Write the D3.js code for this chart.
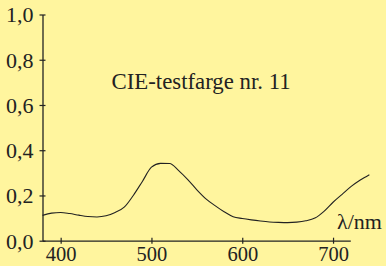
<!DOCTYPE html>
<html><head><meta charset="utf-8">
<script src="https://cdn.jsdelivr.net/npm/d3@7"></script>
<style>
html,body{margin:0;padding:0;background:#fff59e;}
svg{display:block;}
</style></head>
<body>
<svg id="c" width="386" height="266"></svg>
<script>
const wavelengths = [380,390,400,410,420,430,440,450,460,470,480,490,500,510,520,530,540,550,560,570,580,590,600,610,620,630,640,650,660,670,680,690,700,710,720,730,740];
const reflectance = [0.112,0.122,0.125,0.120,0.113,0.107,0.105,0.110,0.125,0.148,0.200,0.262,0.325,0.342,0.341,0.310,0.270,0.225,0.185,0.155,0.128,0.106,0.098,0.092,0.087,0.083,0.081,0.080,0.082,0.088,0.100,0.130,0.170,0.205,0.240,0.268,0.292];
const xTicks = [400,500,600,700];
const yTicks = [0,0.2,0.4,0.6,0.8,1.0];
const yTickLabels = ["0,0","0,2","0,4","0,6","0,8","1,0"];
const title = "CIE-testfarge nr. 11";
const xLabel = "λ/nm";

const svg = d3.select("#c");
const font = "'Liberation Serif','Times New Roman',serif";
const ink = "#222";
const x = d3.scaleLinear().domain([380,719]).range([42.5,350.3]);
const y = d3.scaleLinear().domain([0,1]).range([240.7,14.5]);

const gx = svg.append("g").attr("transform",`translate(0,${y(0)})`)
  .call(d3.axisBottom(x).tickValues(xTicks).tickSize(3).tickSizeOuter(0).tickFormat(d3.format("d")));
gx.selectAll(".tick line").attr("y1",-3).attr("stroke",ink).attr("stroke-width",1.2);
gx.select(".domain").attr("stroke",ink).attr("stroke-width",1.3);
gx.selectAll(".tick text").attr("y",20.5).attr("dy",0).attr("fill",ink)
  .style("font-family",font).style("font-size","20.5px");

const gy = svg.append("g").attr("transform",`translate(${x(380)},0)`)
  .call(d3.axisLeft(y).tickValues(yTicks).tickSize(3).tickPadding(6).tickSizeOuter(0)
    .tickFormat((d,i)=>yTickLabels[i]));
gy.selectAll(".tick line").attr("x1",3).attr("stroke",ink).attr("stroke-width",1.2);
gy.select(".domain").attr("stroke",ink).attr("stroke-width",1.3);
gy.selectAll(".tick text").attr("fill",ink).attr("dy","0.34em")
  .style("font-family",font).style("font-size","22px");

const line = d3.line().x((d,i)=>x(wavelengths[i])).y(d=>y(d)).curve(d3.curveMonotoneX);
svg.append("path").datum(reflectance).attr("d",line)
  .attr("fill","none").attr("stroke",ink).attr("stroke-width",1.1);

svg.append("text").attr("x",111.5).attr("y",89).text(title)
  .attr("fill",ink).style("font-family",font).style("font-size","22.8px");
svg.append("text").attr("x",337).attr("y",229).text(xLabel)
  .attr("fill",ink).style("font-family",font).style("font-size","22px");
</script>
</body></html>
